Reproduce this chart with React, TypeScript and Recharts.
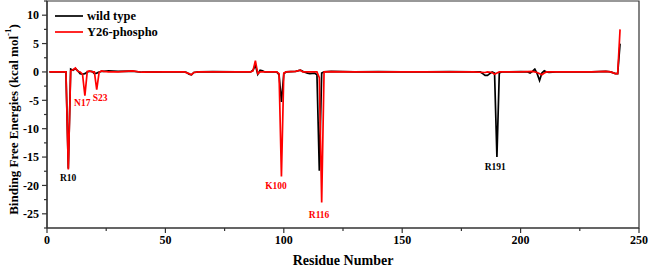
import React from "react";
import { LineChart, Line, XAxis, YAxis, ReferenceArea, ReferenceDot } from "recharts";

// ---- data ----
const wildRes = [1, 8, 9, 10, 11, 12, 13, 14, 15, 16, 17, 18, 19, 20, 21, 22, 23, 24, 26, 30, 36, 40, 50, 58, 59, 60, 61, 62, 64, 70, 80, 86, 87, 88, 89, 90, 91, 92, 97, 98, 99, 100, 101, 105, 107, 108, 110, 111, 113, 114, 115, 116, 117, 120, 130, 140, 150, 160, 170, 180, 183, 184, 185, 186, 187, 188, 189, 190, 191, 192, 195, 200, 203, 204, 205, 206, 207, 208, 209, 210, 211, 212, 215, 220, 230, 236, 238, 240, 241, 242];
const wildVal = [0, 0, -17, 0.5, 0.3, 0.6, 0.2, -0.3, -0.4, -0.3, 0, 0.1, 0.1, -0.3, -0.2, 0, 0.1, 0.1, 0.2, 0.1, 0.15, -0.05, 0, 0, -0.1, -0.4, -0.5, -0.1, 0, 0.05, 0, 0, 0.3, 1.2, -0.4, 0.3, 0.2, 0, 0, -0.5, -5.3, -0.3, 0, 0.1, 0.3, 0.1, -0.2, -0.3, -0.2, -0.5, -17.4, -0.2, 0, 0.1, 0, 0.05, 0, 0, 0.05, 0, 0, -0.3, -0.6, -0.6, -0.3, 0, -0.2, -15, -0.2, 0, 0, 0.05, 0, -0.2, 0.1, 0.5, -0.3, -1.5, -0.2, 0.2, 0, -0.1, 0, 0, 0, 0.1, 0, -0.3, -0.3, 5.0];

const phosRes = [1, 8, 9, 10, 11, 12, 13, 14, 15, 16, 17, 18, 19, 20, 21, 22, 23, 24, 26, 30, 36, 40, 50, 58, 60, 61, 62, 64, 70, 80, 86, 87, 88, 89, 90, 92, 97, 98, 99, 100, 101, 105, 107, 108, 113, 114, 115, 116, 117, 120, 130, 140, 150, 160, 170, 180, 185, 186, 188, 189, 190, 191, 195, 200, 205, 207, 209, 210, 211, 215, 220, 230, 236, 238, 240, 241, 242];
const phosVal = [0, 0, -17.2, 0.2, 0.4, 0.7, 0.1, 0, -0.4, -4.2, 0.1, 0.2, 0, 0, -3.1, -0.1, 0.2, 0.1, 0, 0, 0.2, -0.05, 0, 0, -0.3, -0.5, -0.1, 0, 0, 0, 0, 0.2, 2.0, -0.3, 0, 0, 0, -0.3, -18.4, -0.2, 0, 0.1, 0.3, 0, 0, 0, -1, -23.0, 0, 0.05, 0, 0, 0, 0, 0, 0, -0.1, 0, -0.1, -0.4, -0.2, 0, 0, 0, 0.1, -0.1, -0.5, -0.2, 0, 0, 0, 0, 0.1, 0, -0.3, -0.3, 7.5];

const xTicks = [0, 25, 50, 75, 100, 125, 150, 175, 200, 225, 250];
const yTicks = [-27.5, -25, -22.5, -20, -17.5, -15, -12.5, -10, -7.5, -5, -2.5, 0, 2.5, 5, 7.5, 10, 12.5];

const annText = ["R10", "N17", "S23", "K100", "R116", "R191"];
const annRes = [8.9, 14.9, 22.4, 96.7, 114.9, 189.3];
const annVal = [-18.6, -5.45, -4.5, -20.0, -25.1, -16.7];
const annIsPhospho = [false, true, true, true, true, false];

const seriesNames = ["wild type", "Y26-phospho"];
const seriesColors = ["#000000", "#ff0000"];

const wildData = wildRes.map((r, i) => ({ res: r, v: wildVal[i] }));
const phosData = phosRes.map((r, i) => ({ res: r, v: phosVal[i] }));

// ---- layout ----
const W = 650;
const H = 270;
const FONT = "'Liberation Serif', 'Times New Roman', serif";
const PLOT_LEFT = 47;
const PLOT_BOTTOM = 228;
const AXIS_COLOR = "#333";

const XTick = (props: any) => {
  const { x, payload } = props;
  const v = payload.value;
  const major = v % 50 === 0;
  return (
    <g>
      <line x1={x} x2={x} y1={PLOT_BOTTOM} y2={PLOT_BOTTOM + (major ? 5 : 3)} stroke={AXIS_COLOR} strokeWidth={1.2} />
      {major && (
        <text x={x} y={PLOT_BOTTOM + 16} textAnchor="middle" fontFamily={FONT} fontWeight="bold" fontSize={12} fill="#000">
          {v}
        </text>
      )}
    </g>
  );
};

const YTick = (props: any) => {
  const { y, payload } = props;
  const v = payload.value;
  const major = v % 5 === 0;
  return (
    <g>
      <line x1={PLOT_LEFT - (major ? 5 : 3)} x2={PLOT_LEFT} y1={y} y2={y} stroke={AXIS_COLOR} strokeWidth={1.2} />
      {major && (
        <text x={PLOT_LEFT - 8} y={y} dy="0.35em" textAnchor="end" fontFamily={FONT} fontWeight="bold" fontSize={12} fill="#000">
          {v}
        </text>
      )}
    </g>
  );
};

export default function App() {
  return (
    <div style={{ position: "absolute", left: 0, top: 0, width: W, height: H, background: "#fff" }}>
      <LineChart width={W} height={H} margin={{ top: 1, right: 11, left: 0, bottom: 12 }}>
        <XAxis
          type="number"
          dataKey="res"
          domain={[0, 250]}
          ticks={xTicks}
          allowDataOverflow
          height={30}
          axisLine={{ stroke: AXIS_COLOR, strokeWidth: 1.2 }}
          tickLine={false}
          tick={<XTick />}
          interval={0}
        />
        <YAxis
          type="number"
          dataKey="v"
          domain={[-27.5, 12.5]}
          ticks={yTicks}
          allowDataOverflow
          width={47}
          axisLine={{ stroke: AXIS_COLOR, strokeWidth: 1.2 }}
          tickLine={false}
          tick={<YTick />}
          interval={0}
        />
        <ReferenceArea x1={0} x2={250} y1={-27.5} y2={12.5} fill="none" stroke={AXIS_COLOR} strokeWidth={1.2} ifOverflow="visible" />
        <Line data={wildData} dataKey="v" type="linear" stroke={seriesColors[0]} strokeWidth={1.7} dot={false} isAnimationActive={false} />
        <Line data={phosData} dataKey="v" type="linear" stroke={seriesColors[1]} strokeWidth={1.7} dot={false} isAnimationActive={false} />
        {annText.map((t, i) => (
          <ReferenceDot
            key={t}
            x={annRes[i]}
            y={annVal[i]}
            r={0}
            fill="none"
            stroke="none"
            ifOverflow="visible"
            label={{
              value: t,
              position: "center",
              fill: annIsPhospho[i] ? seriesColors[1] : seriesColors[0],
              fontSize: 9.5,
              fontWeight: "bold",
              fontFamily: FONT,
            }}
          />
        ))}
      </LineChart>
      <svg width={W} height={H} style={{ position: "absolute", left: 0, top: 0, pointerEvents: "none" }}>
        {seriesNames.map((n, i) => (
          <g key={n}>
            <line x1={55} x2={83} y1={16 + i * 16} y2={16 + i * 16} stroke={seriesColors[i]} strokeWidth={1.7} />
            <text x={87} y={16 + i * 16} dy="0.35em" fontFamily={FONT} fontWeight="bold" fontSize={12.5} fill="#000">
              {n}
            </text>
          </g>
        ))}
        <text
          x={13}
          y={119.5}
          textAnchor="middle"
          dominantBaseline="central"
          transform="rotate(-90, 13, 119.5)"
          fontFamily={FONT}
          fontWeight="bold"
          fontSize={13}
          fill="#000"
        >
          Binding Free Energies (kcal mol
          <tspan fontSize={9} dy={-5}>-1</tspan>
          <tspan dy={5}>)</tspan>
        </text>
        <text x={343} y={265} textAnchor="middle" fontFamily={FONT} fontWeight="bold" fontSize={14} fill="#000">
          Residue Number
        </text>
      </svg>
    </div>
  );
}
